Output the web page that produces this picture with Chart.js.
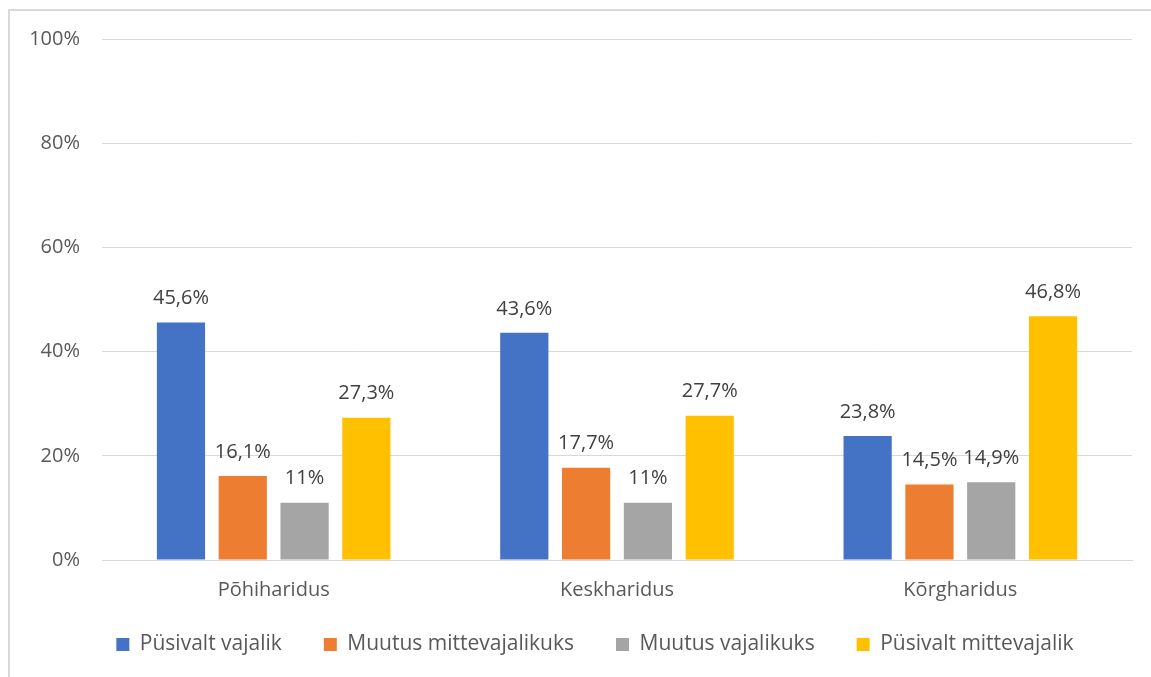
<!DOCTYPE html>
<html>
<head>
<meta charset="utf-8">
<script src="https://cdn.jsdelivr.net/npm/chart.js@4"></script>
<style>
  html, body { margin: 0; padding: 0; background: #fff; overflow: hidden; width: 1151px; height: 677px; }
  #frame {
    position: absolute; left: 8px; top: 9px; width: 1200px; height: 720px;
    border: 2px solid #d9d9d9; box-sizing: border-box;
  }
  #wrap { position: absolute; left: 0; top: 0; width: 1151px; height: 677px; }
</style>
</head>
<body>
<div id="frame"></div>
<div id="wrap"><canvas id="eduChart"></canvas></div>
<script>
// categories and series
const categories = ['Põhiharidus', 'Keskharidus', 'Kõrgharidus'];
const seriesNames = ['Püsivalt vajalik', 'Muutus mittevajalikuks', 'Muutus vajalikuks', 'Püsivalt mittevajalik'];
const pysivaltVajalik = [45.6, 43.6, 23.8];
const muutusMittevajalikuks = [16.1, 17.7, 14.5];
const muutusVajalikuks = [11, 11, 14.9];
const pysivaltMittevajalik = [27.3, 27.7, 46.8];
const yTicks = [0, 20, 40, 60, 80, 100];

const colors = ['#4472c4', '#ed7d31', '#a5a5a5', '#ffc000'];
const fontFamily = '"Open Sans", sans-serif';

const formatPct = v => String(v).replace('.', ',') + '%';

// draw value labels above each bar
const valueLabels = {
    id: 'valueLabels',
    afterDatasetsDraw(chart) {
        const ctx = chart.ctx;
        ctx.save();
        ctx.font = '20px ' + fontFamily;
        ctx.fillStyle = '#404040';
        ctx.textAlign = 'center';
        ctx.textBaseline = 'middle';
        chart.data.datasets.forEach((ds, i) => {
            chart.getDatasetMeta(i).data.forEach((bar, j) => {
                ctx.fillText(formatPct(ds.data[j]), bar.x, bar.y - 24);
            });
        });
        ctx.restore();
    }
};

const allSeries = [pysivaltVajalik, muutusMittevajalikuks, muutusVajalikuks, pysivaltMittevajalik];

new Chart(document.getElementById('eduChart'), {
    type: 'bar',
    data: {
        labels: categories,
        datasets: allSeries.map((values, i) => ({
            label: seriesNames[i],
            data: values,
            backgroundColor: colors[i],
            borderWidth: 0,
            categoryPercentage: 0.72,
            barPercentage: 0.78
        }))
    },
    options: {
        responsive: true,
        maintainAspectRatio: false,
        animation: false,
        // uneven side padding so the legend sits centred like the original
        layout: { padding: { left: 58, right: 19, top: 39, bottom: 12 } },
        plugins: {
            legend: {
                position: 'bottom',
                labels: {
                    boxWidth: 13,
                    boxHeight: 13,
                    padding: 42,
                    color: '#595959',
                    font: { family: fontFamily, size: 21 }
                }
            },
            tooltip: { enabled: false }
        },
        scales: {
            x: {
                afterFit(scale) {
                    scale.height = 32;
                    // keep tick labels from being clipped to the shortened axis box
                    scale._computeLabelArea = () => null;
                },
                grid: { display: false, drawTicks: false },
                border: { color: '#d9d9d9', width: 1 },
                ticks: {
                    color: '#595959',
                    padding: 18,
                    font: { family: fontFamily, size: 20 }
                }
            },
            y: {
                min: 0,
                max: 100,
                afterFit(scale) {
                    scale.width = 44;
                    scale._computeLabelArea = () => null;
                },
                afterBuildTicks(scale) { scale.ticks = yTicks.map(v => ({ value: v })); },
                grid: { color: '#d9d9d9', lineWidth: 1, drawTicks: false },
                border: { display: false },
                ticks: {
                    color: '#595959',
                    padding: 22,
                    font: { family: fontFamily, size: 20 },
                    callback: v => v + '%'
                }
            }
        }
    },
    plugins: [valueLabels]
});
</script>
</body>
</html>
